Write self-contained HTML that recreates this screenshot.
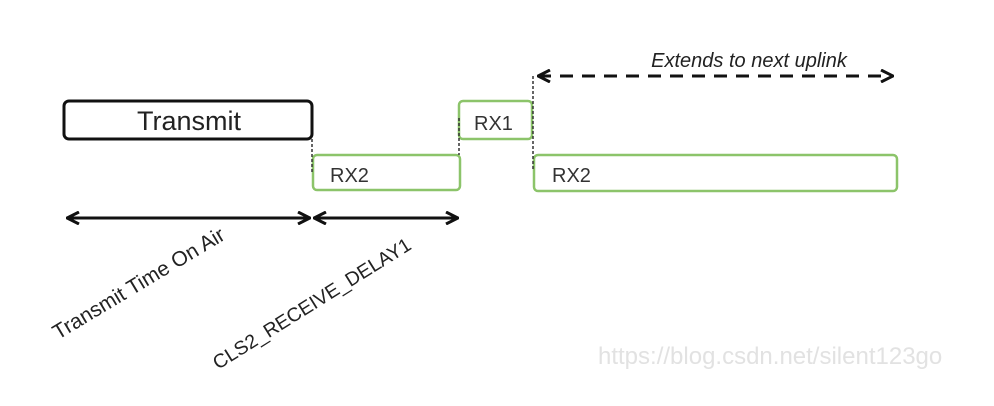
<!DOCTYPE html>
<html><head><style>
body{margin:0;background:#fff;}
svg{display:block;}
</style></head><body>
<svg width="994" height="406" xmlns="http://www.w3.org/2000/svg" font-family="Liberation Sans, Arial, sans-serif">
<rect width="994" height="406" fill="#fff"/>
<defs>
<marker id="a" viewBox="0 0 14 14" refX="13" refY="7" markerWidth="14" markerHeight="14" markerUnits="userSpaceOnUse" orient="auto-start-reverse">
<path d="M1,1 L13,7 L1,13" fill="none" stroke="#111" stroke-width="3"/>
</marker>
</defs>
<rect x="64" y="101" width="248" height="38" rx="5" fill="none" stroke="#111" stroke-width="3"/>
<text x="189" y="130" font-size="27" text-anchor="middle" fill="#222">Transmit</text>
<rect x="313" y="155" width="147" height="35" rx="4" fill="none" stroke="#8cc46a" stroke-width="2.5"/>
<text x="330" y="182" font-size="20" fill="#333">RX2</text>
<rect x="459" y="101" width="73" height="38" rx="4" fill="none" stroke="#8cc46a" stroke-width="2.5"/>
<text x="474" y="130" font-size="20" fill="#333">RX1</text>
<rect x="534" y="155" width="363" height="36" rx="4" fill="none" stroke="#8cc46a" stroke-width="2.5"/>
<text x="552" y="182" font-size="20" fill="#333">RX2</text>
<g stroke="#333" stroke-width="1.5" stroke-dasharray="3,2">
<line x1="312" y1="139" x2="312" y2="172"/>
<line x1="459" y1="118" x2="459" y2="155"/>
<line x1="533" y1="76" x2="533" y2="170"/>
</g>
<line x1="538" y1="76" x2="893" y2="76" stroke="#111" stroke-width="3" stroke-dasharray="13,9" marker-start="url(#a)" marker-end="url(#a)"/>
<text x="749" y="67" font-size="20" font-style="italic" text-anchor="middle" fill="#222">Extends to next uplink</text>
<line x1="67" y1="218" x2="310" y2="218" stroke="#111" stroke-width="3" marker-start="url(#a)" marker-end="url(#a)"/>
<line x1="314" y1="218" x2="458" y2="218" stroke="#111" stroke-width="3" marker-start="url(#a)" marker-end="url(#a)"/>
<text transform="translate(58,340) rotate(-31)" font-size="21" fill="#222">Transmit Time On Air</text>
<text transform="translate(218,370) rotate(-32)" font-size="19.5" fill="#222">CLS2_RECEIVE_DELAY1</text>
<text x="598" y="364" font-size="24" fill="#e2e2e2">https://blog.csdn.net/silent123go</text>
</svg>
</body></html>
